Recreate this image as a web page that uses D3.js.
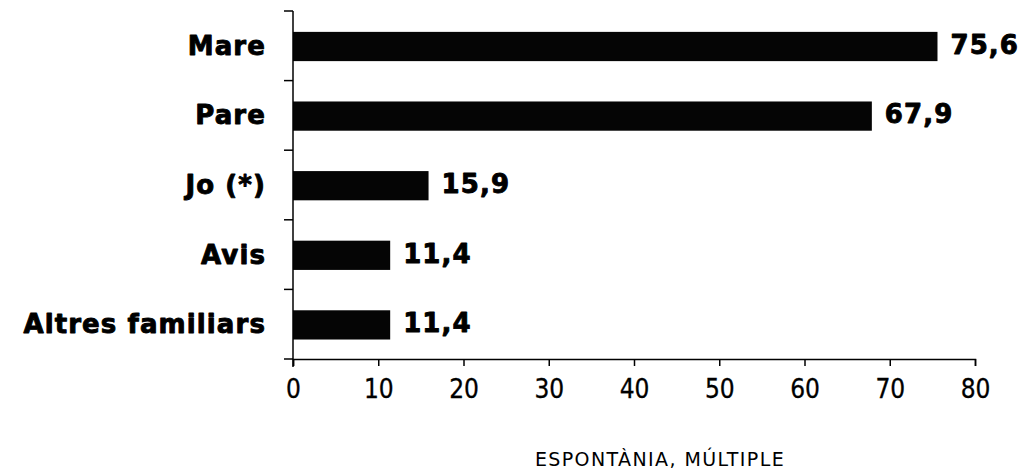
<!DOCTYPE html>
<html>
<head>
<meta charset="utf-8">
<script src="https://cdn.jsdelivr.net/npm/d3@7"></script>
<style>
  html, body { margin: 0; padding: 0; background: #fff; }
  svg { display: block; }
</style>
</head>
<body>
<svg id="chart" width="1029" height="469"></svg>
<script>
// Respondents naming each family member (percent, multiple spontaneous answers)
const categories = ["Mare", "Pare", "Jo (*)", "Avis", "Altres familiars"];
const values = [75.6, 67.9, 15.9, 11.4, 11.4];
const valueLabels = ["75,6", "67,9", "15,9", "11,4", "11,4"];
const xTicks = [0, 10, 20, 30, 40, 50, 60, 70, 80];
const axisTitle = "ESPONTÀNIA, MÚLTIPLE";

const svg = d3.select("#chart");
const margin = { left: 293, right: 54, top: 11, bottom: 110 };
const W = 1029, H = 469;

const x = d3.scaleLinear().domain([0, 80]).range([margin.left, W - margin.right]);
const y = d3.scaleBand().domain(categories).range([margin.top, H - margin.bottom]).padding(0);
const barH = y.bandwidth() * 0.42;

const boldFont = "'DejaVu Sans', Verdana, sans-serif";
const condFont = "'DejaVu Sans Condensed', 'DejaVu Sans', sans-serif";

// heavy label style shared by category and value labels
function heavy(sel) {
  sel.attr("font-family", boldFont)
    .attr("font-weight", "bold")
    .attr("font-size", 26)
    .attr("letter-spacing", 1.1)
    .attr("fill", "#000")
    .attr("stroke", "#000")
    .attr("stroke-width", 0.9)
    .attr("stroke-linejoin", "round");
}

// bars
svg.append("g").selectAll("rect")
  .data(categories)
  .join("rect")
  .attr("x", x(0))
  .attr("y", (d) => y(d) + y.bandwidth() / 2 - barH / 2 + 0.7)
  .attr("width", (d, i) => x(values[i]) - x(0))
  .attr("height", barH)
  .attr("fill", "#050505");

// value labels
svg.append("g").selectAll("text")
  .data(categories)
  .join("text")
  .attr("x", (d, i) => x(values[i]) + 13)
  .attr("y", (d) => y(d) + y.bandwidth() / 2 + 8)
  .call(heavy)
  .text((d, i) => valueLabels[i]);

// category axis: ticks on band boundaries, labels centred in each band
const yAxisG = svg.append("g");
yAxisG.append("line")
  .attr("x1", x(0)).attr("x2", x(0))
  .attr("y1", margin.top).attr("y2", H - margin.bottom + 8)
  .attr("stroke", "#000").attr("stroke-width", 1.5);
const bounds = categories.map((d) => y(d)).concat([y.range()[1]]);
yAxisG.selectAll("line.tick")
  .data(bounds)
  .join("line")
  .attr("class", "tick")
  .attr("x1", x(0) - 9).attr("x2", x(0))
  .attr("y1", (d) => d).attr("y2", (d) => d)
  .attr("stroke", "#000").attr("stroke-width", 1.5);
yAxisG.selectAll("text")
  .data(categories)
  .join("text")
  .attr("x", 266)
  .attr("y", (d) => y(d) + y.bandwidth() / 2 + 9)
  .attr("text-anchor", "end")
  .call(heavy)
  .text((d) => d);

// value axis
const xAxis = d3.axisBottom(x).tickValues(xTicks).tickSize(7).tickPadding(14).tickFormat(d3.format("d"));
const xAxisG = svg.append("g")
  .attr("transform", `translate(0,${H - margin.bottom})`)
  .call(xAxis);
xAxisG.select(".domain").attr("stroke", "#000").attr("stroke-width", 1.5);
xAxisG.selectAll(".tick line").attr("stroke", "#000").attr("stroke-width", 1.5);
xAxisG.selectAll(".tick text")
  .attr("font-family", condFont)
  .attr("font-size", 26)
  .attr("fill", "#000")
  .attr("stroke", "#000")
  .attr("stroke-width", 0.3);

// axis title
svg.append("text")
  .attr("x", 660)
  .attr("y", 466)
  .attr("text-anchor", "middle")
  .attr("font-family", "'DejaVu Sans', sans-serif")
  .attr("font-size", 19)
  .attr("letter-spacing", 1.4)
  .attr("fill", "#000")
  .text(axisTitle);
</script>
</body>
</html>
